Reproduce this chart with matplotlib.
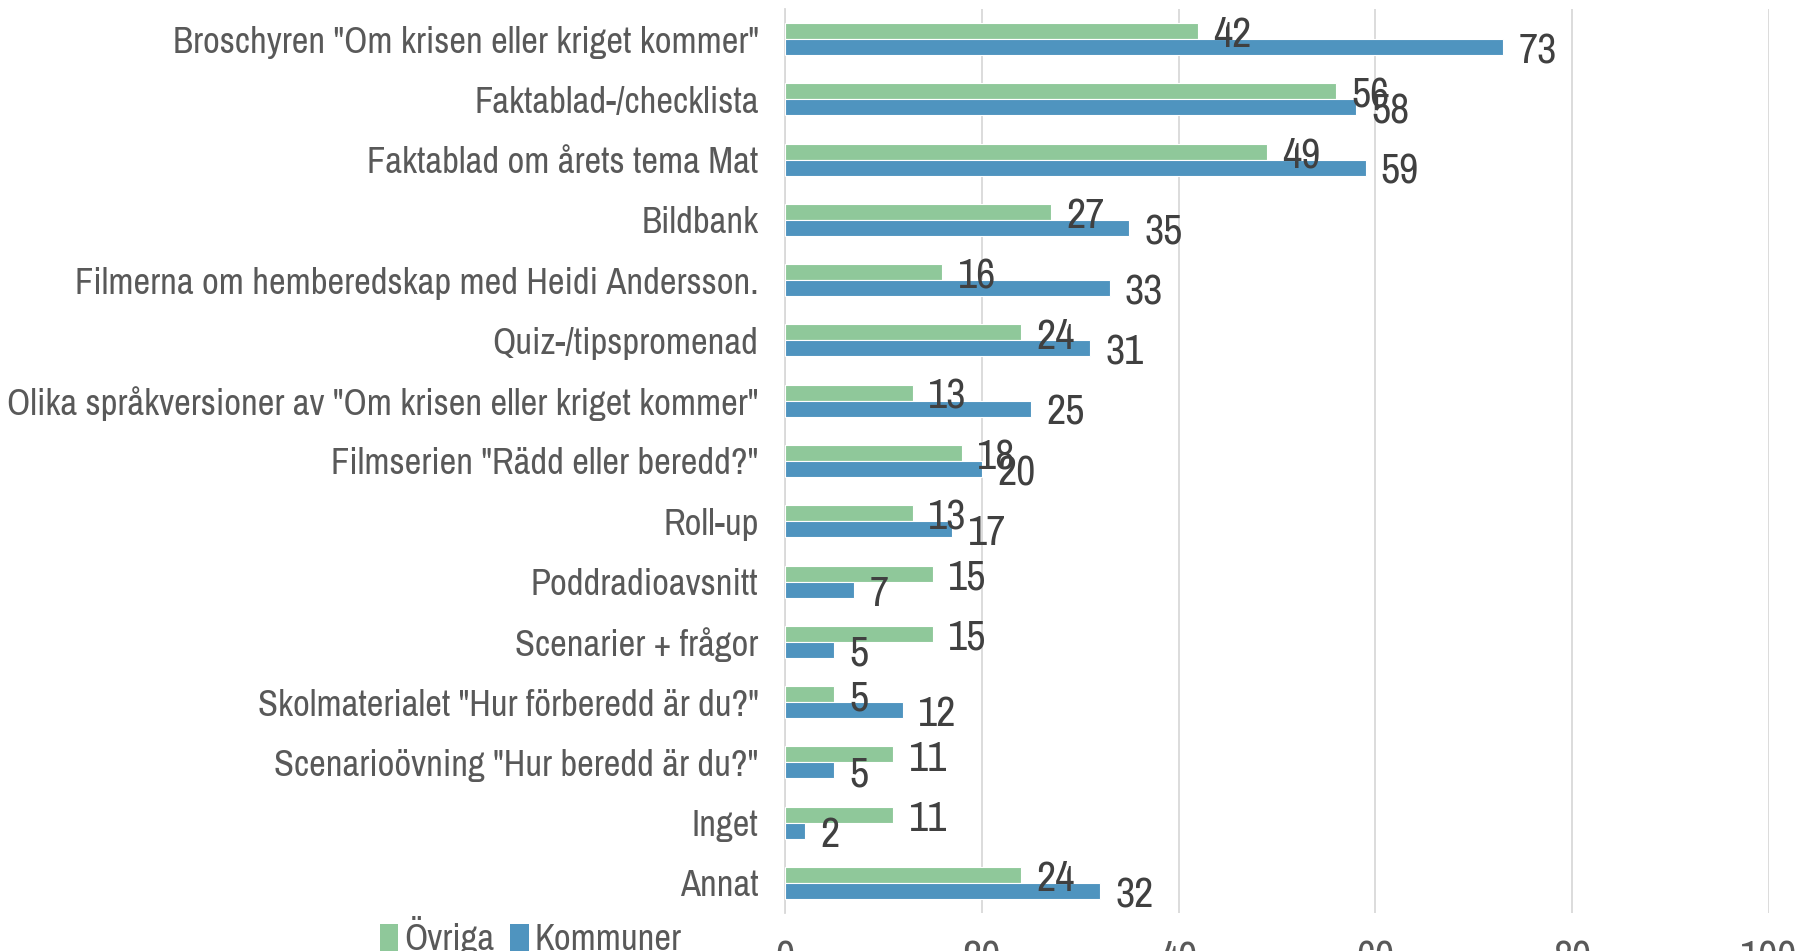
import matplotlib
matplotlib.use("Agg")
import matplotlib.pyplot as plt
from matplotlib.patches import Patch

plt.rcParams["font.family"] = ["Archivo Narrow", "Roboto Condensed", "DejaVu Sans"]

categories = [
    'Broschyren "Om krisen eller kriget kommer"',
    'Faktablad-/checklista',
    'Faktablad om årets tema Mat',
    'Bildbank',
    'Filmerna om hemberedskap med Heidi Andersson.',
    'Quiz-/tipspromenad',
    'Olika språkversioner av "Om krisen eller kriget kommer"',
    'Filmserien "Rädd eller beredd?"',
    'Roll-up',
    'Poddradioavsnitt',
    'Scenarier + frågor',
    'Skolmaterialet "Hur förberedd är du?"',
    'Scenarioövning "Hur beredd är du?"',
    'Inget',
    'Annat',
]
ovriga = [42, 56, 49, 27, 16, 24, 13, 18, 13, 15, 15, 5, 11, 11, 24]
kommuner = [73, 58, 59, 35, 33, 31, 25, 20, 17, 7, 5, 12, 5, 2, 32]
series_names = ["Övriga", "Kommuner"]

green = "#8FC89A"
blue = "#4F94BF"

fig = plt.figure(figsize=(18, 9.51), dpi=100)
ax = fig.add_axes([785 / 1800, 1 - 913 / 951, (1769 - 785) / 1800, (913 - 9) / 951])

# size category labels so the first one is about as wide as in the reference
r = fig.canvas.get_renderer()
probe = fig.text(0, 0, categories[0], fontsize=20)
w = probe.get_window_extent(r).width
probe.remove()
lab_size = 20 * 583 / w

y = list(range(len(categories)))
h = 0.265
ax.barh([v - h / 2 for v in y], ovriga, height=h, color=green, edgecolor="white", linewidth=0.8, zorder=3)
ax.barh([v + h / 2 for v in y], kommuner, height=h, color=blue, edgecolor="white", linewidth=0.8, zorder=3)

val_size = lab_size * 1.15
for i in y:
    ax.annotate(str(ovriga[i]), (ovriga[i], i - h / 2), xytext=(11, -3), textcoords="offset points",
                va="center", ha="left", fontsize=val_size, color="#404040")
    ax.annotate(str(kommuner[i]), (kommuner[i], i + h / 2), xytext=(11, -3), textcoords="offset points",
                va="center", ha="left", fontsize=val_size, color="#404040")

ax.set_xlim(0, 100)
ax.set_ylim(len(categories) - 0.5, -0.5)
ax.set_xticks(range(0, 101, 20))
ax.set_yticks(y)
ax.set_yticklabels(categories)
ax.tick_params(axis="y", length=0, pad=19, labelsize=lab_size, labelcolor="#595959")
ax.tick_params(axis="x", length=0, pad=19, labelsize=val_size, labelcolor="#595959")
ax.grid(axis="x", color="#D9D9D9", linewidth=1.3, zorder=0)
for s in ["top", "right", "bottom"]:
    ax.spines[s].set_visible(False)
ax.spines["left"].set_color("#D9D9D9")
ax.spines["left"].set_linewidth(1.3)

handles = [Patch(facecolor=green), Patch(facecolor=blue)]
fig.legend(handles, series_names, loc="center left", bbox_to_anchor=(380 / 1800, 1 - 936 / 951),
           ncol=2, frameon=False, fontsize=lab_size, labelcolor="#595959", borderpad=0, borderaxespad=0,
           handlelength=0.5, handleheight=0.75, handletextpad=0.15, columnspacing=0.45)

fig.savefig("out.png", dpi=100)
